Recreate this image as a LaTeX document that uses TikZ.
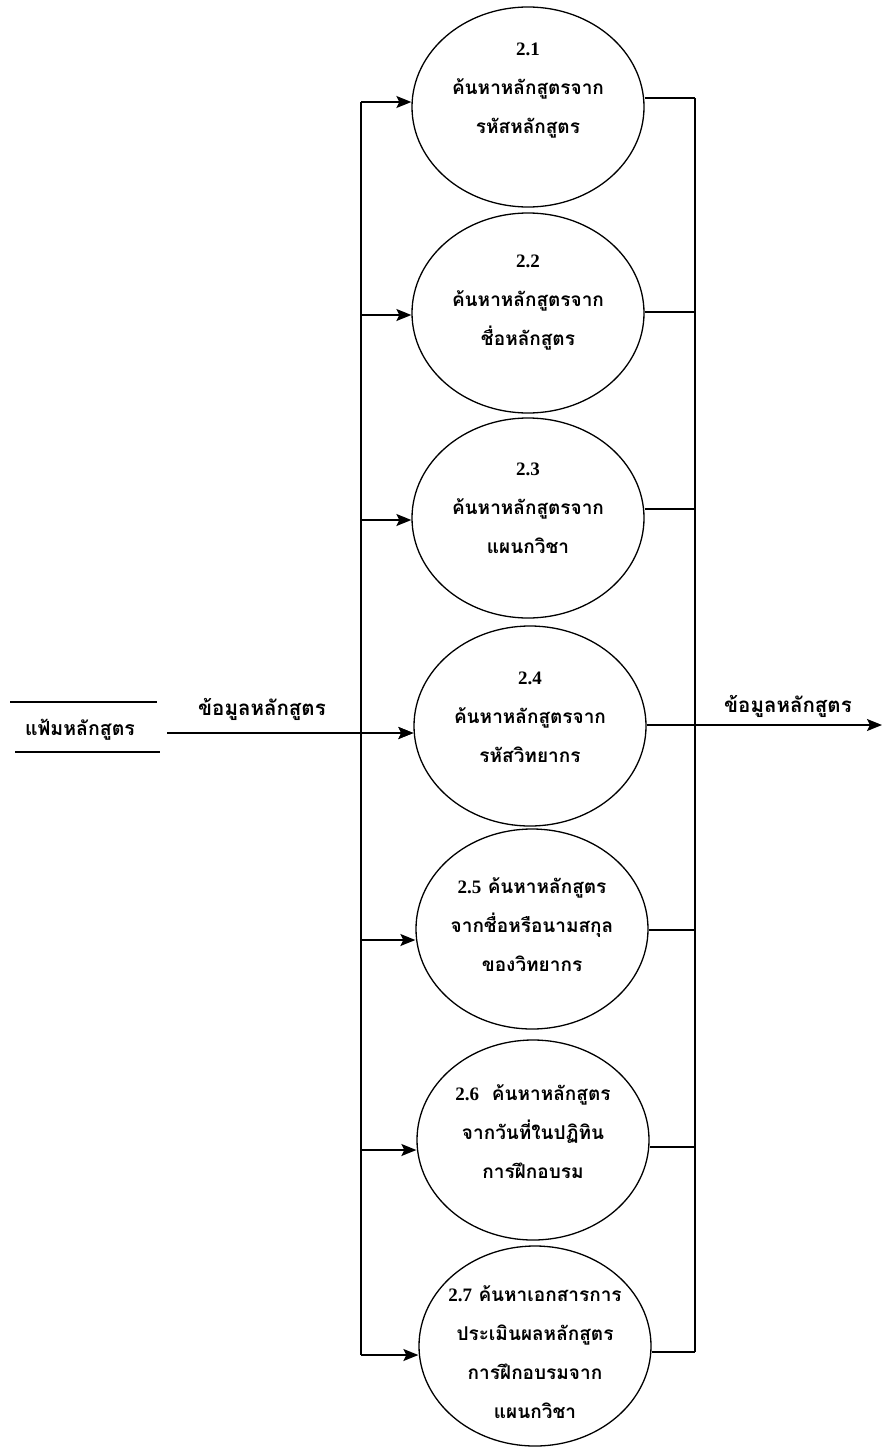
\documentclass[tikz,border=0pt]{standalone}
\usepackage{fontspec}
\usetikzlibrary{shapes.geometric,arrows.meta}
\newfontfamily\thaifont[Script=Thai]{Loma}
\newfontfamily\numfont{Liberation Serif}
\newcommand{\pnum}[1]{{\numfont\bfseries #1}}

\begin{document}
\begin{tikzpicture}[x=1pt,y=-1pt,
  proc/.style={ellipse, draw, line width=1.3pt, minimum width=232pt,
               minimum height=200pt, inner sep=0pt},
  ptext/.style={align=center, inner sep=0pt,
                font=\thaifont\bfseries\fontsize{19}{39}\selectfont},
  flow/.style={line width=1.5pt},
  arr/.style={flow, -{Stealth[length=15pt,width=12pt,inset=3pt]}},
  lbl/.style={inner sep=0pt, font=\thaifont\bfseries\fontsize{20.5}{22}\selectfont}]
\useasboundingbox (0,0) rectangle (882,1448);

% processes
\node[proc] (e1) at (528,107) {};
\node[proc] (e2) at (528,313) {};
\node[proc] (e3) at (528,518) {};
\node[proc] (e4) at (530,726) {};
\node[proc] (e5) at (532,929) {};
\node[proc] (e6) at (533,1140) {};
\node[proc] (e7) at (535,1346) {};

\node[ptext] (t1) at (528,91)  {\pnum{2.1}\\ค้นหาหลักสูตรจาก\\รหัสหลักสูตร};
\node[ptext] (t2) at (528,303) {\pnum{2.2}\\ค้นหาหลักสูตรจาก\\ชื่อหลักสูตร};
\node[ptext] (t3) at (528,508) {\pnum{2.3}\\ค้นหาหลักสูตรจาก\\แผนกวิชา};
\node[ptext] (t4) at (530,717) {\pnum{2.4}\\ค้นหาหลักสูตรจาก\\รหัสวิทยากร};
\node[ptext] (t5) at (532,925) {\pnum{2.5} ค้นหาหลักสูตร\\จากชื่อหรือนามสกุล\\ของวิทยากร};
\node[ptext] (t6) at (533,1132) {\pnum{2.6}\ \ ค้นหาหลักสูตร\\จากวันที่ในปฏิทิน\\การฝึกอบรม};
\node[ptext] (t7) at (535,1352) {\pnum{2.7} ค้นหาเอกสารการ\\ประเมินผลหลักสูตร\\การฝึกอบรมจาก\\แผนกวิชา};

% distribution bus on the left
\coordinate (in1) at (361,102);
\coordinate (in2) at (361,315);
\coordinate (in3) at (361,520);
\coordinate (in4) at (361,733);
\coordinate (in5) at (361,940);
\coordinate (in6) at (361,1150);
\coordinate (in7) at (361,1355);
\draw[flow] (in1) -- (in7);
\foreach \i in {1,...,7} {
  \draw[arr] (in\i) -- (in\i -| e\i.west);
}

% collecting bus on the right
\coordinate (out1) at (695,98);
\coordinate (out2) at (695,312);
\coordinate (out3) at (695,509);
\coordinate (out4) at (695,725);
\coordinate (out5) at (695,930);
\coordinate (out6) at (695,1147);
\coordinate (out7) at (695,1352);
\draw[flow] (out1) -- (out7);
\foreach \i in {1,...,7} {
  \draw[flow] (out\i -| e\i.east) -- (out\i);
}

% data store
\node[lbl, font=\thaifont\bfseries\fontsize{19.5}{22}\selectfont] (store) at (80,730) {แฟ้มหลักสูตร};
\coordinate (sa1) at (10,702);
\coordinate (sa2) at (157,702);
\coordinate (sb1) at (15,752);
\coordinate (sb2) at (160,752);
\draw[flow] (sa1) -- (sa2);
\draw[flow] (sb1) -- (sb2);

% incoming data flow
\coordinate (src) at (167,733);
\draw[arr] (src) -- (src -| e4.west);
\node[lbl] (inlbl) at (262,709) {ข้อมูลหลักสูตร};

% outgoing data flow
\coordinate (sink) at (882,725);
\draw[arr] (sink -| e4.east) -- (sink);
\node[lbl] (outlbl) at (788,706) {ข้อมูลหลักสูตร};
\end{tikzpicture}
\end{document}
